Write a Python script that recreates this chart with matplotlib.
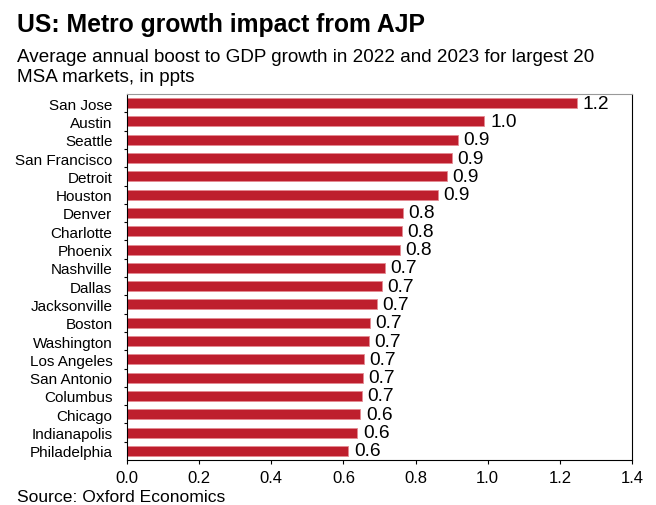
import matplotlib.pyplot as plt

plt.rcParams['font.family'] = ['Liberation Sans', 'DejaVu Sans']

# Metros (top to bottom) and average annual boost to GDP growth, ppts
metros = ['San Jose', 'Austin', 'Seattle', 'San Francisco', 'Detroit', 'Houston',
          'Denver', 'Charlotte', 'Phoenix', 'Nashville', 'Dallas', 'Jacksonville',
          'Boston', 'Washington', 'Los Angeles', 'San Antonio', 'Columbus',
          'Chicago', 'Indianapolis', 'Philadelphia']
boost = [1.247, 0.991, 0.917, 0.901, 0.887, 0.862,
         0.764, 0.761, 0.756, 0.714, 0.707, 0.692,
         0.673, 0.670, 0.656, 0.654, 0.652,
         0.647, 0.639, 0.614]
xticks = [0.0, 0.2, 0.4, 0.6, 0.8, 1.0, 1.2, 1.4]

W, H = 656, 506
fig = plt.figure(figsize=(W / 100, H / 100), dpi=100)
ax = fig.add_axes([127 / W, 1 - 461 / H, 505 / W, 366 / H])

pos = list(range(len(metros)))
ax.barh(pos, boost, height=0.55, color='#BE1E2D', edgecolor='#E58A92', linewidth=0.6)
for p, v in zip(pos, boost):
    ax.annotate(f'{v:.1f}', (v, p), xytext=(4, 0), textcoords='offset points',
                va='center', ha='left', fontsize=13.8, color='black')

ax.set_ylim(len(metros) - 0.5, -0.5)
ax.set_xlim(0, 1.4)
ax.set_yticks(pos)
ax.set_yticklabels(metros, fontsize=11)
ax.set_yticks([p + 0.5 for p in pos[:-1]], minor=True)
ax.set_xticks(xticks)
ax.set_xticklabels([f'{t:.1f}' for t in xticks], fontsize=12)
ax.tick_params(axis='y', which='major', length=0, pad=10.5)
ax.tick_params(axis='y', which='minor', direction='out', length=2.5, width=0.8)
ax.tick_params(axis='x', direction='out', length=3, width=0.8, pad=4)
ax.spines['top'].set_color('#999999')
for s in ['left', 'right', 'bottom']:
    ax.spines[s].set_color('black')
    ax.spines[s].set_linewidth(0.8)

fig.text(17 / W, 1 - 32 / H, 'US: Metro growth impact from AJP', fontsize=17.8,
         fontweight='bold', va='baseline', ha='left')
fig.text(17 / W, 1 - 62 / H,
         'Average annual boost to GDP growth in 2022 and 2023 for largest 20',
         fontsize=13.6, va='baseline', ha='left')
fig.text(17 / W, 1 - 82 / H, 'MSA markets, in ppts',
         fontsize=13.6, va='baseline', ha='left')
fig.text(17 / W, 1 - 502 / H, 'Source: Oxford Economics', fontsize=12.6,
         va='baseline', ha='left')

fig.savefig('out.png', dpi=100)
